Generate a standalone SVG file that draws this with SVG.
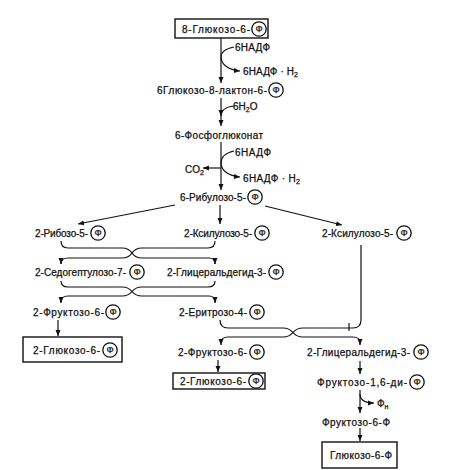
<svg xmlns="http://www.w3.org/2000/svg" width="450" height="470" viewBox="0 0 450 470">
<defs>
<marker id="ah" markerUnits="userSpaceOnUse" markerWidth="6" markerHeight="6" viewBox="0 0 6 6" refX="6" refY="3" orient="auto">
<path d="M0,0.5 L6,3 L0,5.5 z" fill="#111"/>
</marker>
</defs>
<style>
text{font-family:"Liberation Sans",Arial,sans-serif;font-size:10px;fill:#111;stroke:#111;stroke-width:0.25}
.ph circle{fill:#fff;stroke:#111;stroke-width:1.3}
.ph text{font-size:9.5px;text-anchor:middle}
.box{fill:#fff;stroke:#111;stroke-width:1.4}
.ln{fill:none;stroke:#111;stroke-width:1.2}
.ar{fill:none;stroke:#111;stroke-width:1.2;marker-end:url(#ah)}
</style>
<rect width="450" height="470" fill="#fff"/>

<g id="connectors">
<path class="ar" d="M221,38 L221,83"/>
<path class="ar" d="M234,47 C224,49 221,53 221,57 C221,64 228,70 240,71"/>
<path class="ar" d="M221,98 L221,126"/>
<path class="ar" d="M234,106 C225,107 221,111 221,116"/>
<path class="ar" d="M221,142 L221,190"/>
<path class="ar" d="M234,151 C225,153 221,158 221,163 C221,170 228,176 240,177"/>
<path class="ar" d="M221,168 L203,168"/>
<path class="ar" d="M175,205 L78,224"/>
<path class="ar" d="M220,205 L220,224"/>
<path class="ar" d="M265,206 L342,225"/>
<path class="ln" d="M61,241 Q61,248 68,248 L122,248 C128,248 130,250 132,253 C134,256 136,258 142,258 L209,258 Q215,258 215,264"/>
<path class="ar" d="M215,262 L215,264"/>
<path class="ln" d="M215,241 Q215,248 208,248 L142,248 C136,248 134,250 132,253 C130,256 128,258 122,258 L68,258 Q61,258 61,264"/>
<path class="ar" d="M61,262 L61,264"/>
<path class="ln" d="M61,281 Q61,287 68,287 L122,287 C128,287 130,289 132,291.5 C134,294 136,296 142,296 L209,296 Q215,296 215,302"/>
<path class="ar" d="M215,300 L215,303"/>
<path class="ln" d="M215,281 Q215,287 208,287 L142,287 C136,287 134,289 132,291.5 C130,294 128,296 122,296 L68,296 Q61,296 61,302"/>
<path class="ar" d="M61,300 L61,303"/>
<path class="ln" d="M220,320 Q220,328 228,328 L283,328 C289,328 291,330 293,332.5 C295,335 297,337 303,337 L353,337 Q360,337 360,343"/>
<path class="ar" d="M360,341 L360,345"/>
<path class="ln" d="M361,245 L361,320 Q361,328 353,328 L303,328 C297,328 295,330 293,332.5 C291,335 289,337 283,337 L228,337 Q221,337 221,343"/>
<path class="ar" d="M221,341 L221,345"/>
<path class="ln" d="M349,323 L349,331"/>
<path class="ar" d="M58,320 L58,336"/>
<path class="ar" d="M218,360 L218,372"/>
<path class="ar" d="M360,361 L360,374"/>
<path class="ar" d="M360,390 L360,413"/>
<path class="ar" d="M360,394 C360,400 364,403 374,403"/>
<path class="ar" d="M360,428 L360,441"/>
</g>

<g id="n_g6p_top">
<rect class="box" x="175" y="19" width="93" height="19"/>
<text x="182" y="32.5" textLength="68">8-Глюкозо-6-</text>
<g class="ph"><circle cx="259" cy="29" r="7.2"/><text x="259" y="32.3">Ф</text></g>
</g>
<g id="t_nadp1"><text x="235" y="50.5" textLength="35">6НАДФ</text></g>
<g id="t_nadph1"><text x="243" y="74.5" textLength="55">6НАДФ · Н<tspan font-size="7" dy="2">2</tspan></text></g>
<g id="n_lacton">
<text x="157" y="93.5" textLength="110">6Глюкозо-8-лактон-6-</text>
<g class="ph"><circle cx="276" cy="90" r="7.2"/><text x="276" y="93.3">Ф</text></g>
</g>
<g id="t_h2o"><text x="233" y="109.5">6H<tspan font-size="7" dy="2">2</tspan><tspan dy="-2">O</tspan></text></g>
<g id="n_phosphogluconate"><text x="175" y="138.5" textLength="88">6-Фосфоглюконат</text></g>
<g id="t_nadp2"><text x="235" y="155.5" textLength="36">6НАДФ</text></g>
<g id="t_co2"><text x="185" y="172.5">CO<tspan font-size="7" dy="2">2</tspan></text></g>
<g id="t_nadph2"><text x="243" y="181.5" textLength="57">6НАДФ · Н<tspan font-size="7" dy="2">2</tspan></text></g>
<g id="n_ribulose">
<text x="180" y="200.5" textLength="66">6-Рибулозо-5-</text>
<g class="ph"><circle cx="255" cy="197" r="7.2"/><text x="255" y="200.3">Ф</text></g>
</g>
<g id="n_ribose">
<text x="35" y="236.5" textLength="53">2-Рибозо-5-</text>
<g class="ph"><circle cx="98" cy="233" r="7.2"/><text x="98" y="236.3">Ф</text></g>
</g>
<g id="n_xylulose_mid">
<text x="184" y="236.5" textLength="68">2-Ксилулозо-5-</text>
<g class="ph"><circle cx="262" cy="233" r="7.2"/><text x="262" y="236.3">Ф</text></g>
</g>
<g id="n_xylulose_right">
<text x="322" y="236.5" textLength="71">2-Ксилулозо-5-</text>
<g class="ph"><circle cx="404" cy="233" r="7.2"/><text x="404" y="236.3">Ф</text></g>
</g>
<g id="n_sedoheptulose">
<text x="35" y="275.5" textLength="91">2-Седогептулозо-7-</text>
<g class="ph"><circle cx="137" cy="272" r="7.2"/><text x="137" y="275.3">Ф</text></g>
</g>
<g id="n_gap_mid">
<text x="167" y="275.5" textLength="99">2-Глицеральдегид-3-</text>
<g class="ph"><circle cx="276" cy="272" r="7.2"/><text x="276" y="275.3">Ф</text></g>
</g>
<g id="n_fructose_left">
<text x="33" y="315.5" textLength="71">2-Фруктозо-6-</text>
<g class="ph"><circle cx="113" cy="312" r="7.2"/><text x="113" y="315.3">Ф</text></g>
</g>
<g id="n_erythrose">
<text x="179" y="315.5" textLength="68">2-Еритрозо-4-</text>
<g class="ph"><circle cx="257" cy="312" r="7.2"/><text x="257" y="315.3">Ф</text></g>
</g>
<g id="n_g6p_left">
<rect class="box" x="23" y="337" width="99" height="25"/>
<text x="33" y="353.5" textLength="67">2-Глюкозо-6-</text>
<g class="ph"><circle cx="110" cy="350" r="7.2"/><text x="110" y="353.3">Ф</text></g>
</g>
<g id="n_fructose_mid">
<text x="178" y="355.5" textLength="69">2-Фруктозо-6-</text>
<g class="ph"><circle cx="257" cy="352" r="7.2"/><text x="257" y="355.3">Ф</text></g>
</g>
<g id="n_gap_right">
<text x="307" y="355.5" textLength="103">2-Глицеральдегид-3-</text>
<g class="ph"><circle cx="421" cy="352" r="7.2"/><text x="421" y="355.3">Ф</text></g>
</g>
<g id="n_g6p_mid">
<rect class="box" x="173" y="373" width="92" height="16"/>
<text x="180" y="384.5" textLength="66">2-Глюкозо-6-</text>
<g class="ph"><circle cx="256" cy="381" r="7.2"/><text x="256" y="384.3">Ф</text></g>
</g>
<g id="n_fbp">
<text x="317" y="385.5" textLength="90">Фруктозо-1,6-ди-</text>
<g class="ph"><circle cx="417" cy="382" r="7.2"/><text x="417" y="385.3">Ф</text></g>
</g>
<g id="t_pi"><text x="377" y="407">Ф<tspan font-size="7" dy="2">н</tspan></text></g>
<g id="n_f6p"><text x="322" y="425.5" textLength="68">Фруктозо-6-Ф</text></g>
<g id="n_g6p_final">
<rect class="box" x="322" y="442" width="75" height="26"/>
<text x="330" y="458.5" textLength="62">Глюкозо-6-Ф</text>
</g>
</svg>
